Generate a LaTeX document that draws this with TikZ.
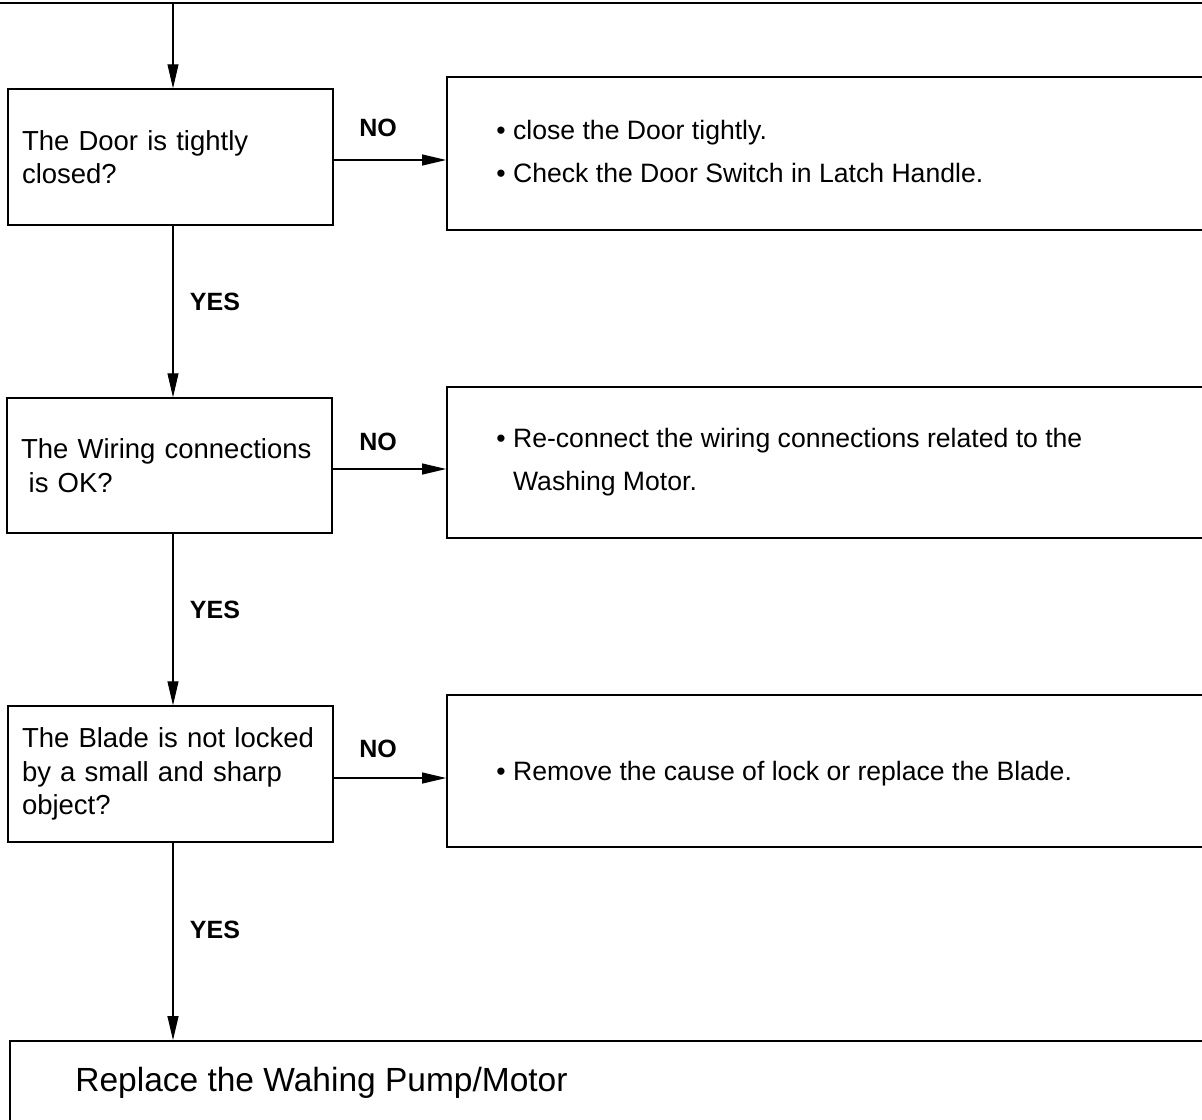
\documentclass[tikz,border=0pt]{standalone}
\usepackage{fontspec}
\setmainfont{Liberation Sans}
\usetikzlibrary{arrows.meta}
\begin{document}
\begin{tikzpicture}[x=0.5pt,y=-0.5pt,
  arr/.style={line width=0.55pt,-{Triangle[length=12pt,width=5.5pt]}},
  qbox/.style={draw,line width=0.75pt,align=left,text width=148.5pt,inner xsep=7pt,
    minimum width=162.5pt,minimum height=68pt,
    font=\fontsize{13.75pt}{16.75pt}\selectfont},
  abox/.style={draw,line width=0.9pt,minimum width=382.5pt,inner sep=0pt},
  atext/.style={anchor=west,align=left,inner sep=0pt,
    font=\fontsize{13.3pt}{21.5pt}\selectfont},
  lab/.style={font=\fontsize{12.5pt}{14pt}\selectfont\bfseries,inner sep=0pt}]
\useasboundingbox (0,0) rectangle (1202,1119);
\clip (0,0) rectangle (1202,1119);
\fill[white] (0,0) rectangle (1202,1119);
% top rule
\coordinate (tl) at (0,3);
\coordinate (tr) at (1202,3);
\draw[line width=1.1pt] (tl) -- (tr);
\coordinate (t) at (173,3);
% question boxes
\node[qbox] (b1) at (170.5,157) {The Door is tightly\\closed?};
\node[qbox,minimum height=67.5pt] (b2) at (169.5,465.5) {The Wiring connections\\\hspace*{0.278em}is OK?};
\node[qbox] (b3) at (170.5,774) {The Blade is not locked\\by a small and sharp\\object?};
% action boxes
\node[abox,minimum height=76.5pt] (r1) at (829.5,153.5) {};
\node[abox,minimum height=75.5pt] (r2) at (829.5,462.5) {};
\node[abox,minimum height=76pt] (r3) at (829.5,771) {};
\node[atext] (r1t) at (496,151.5) {\textbullet\ close the Door tightly.\\\textbullet\ Check the Door Switch in Latch Handle.};
\node[atext] (r2t) at (496,462) {\textbullet\ Re-connect the wiring connections related to the\\\hphantom{\textbullet\ }Washing Motor.};
\node[atext] (r3t) at (496,774) {\textbullet\ Remove the cause of lock or replace the Blade.};
% final box
\node[draw,line width=0.9pt,minimum width=601pt,minimum height=44.5pt,inner sep=0pt] (fb) at (611,1085.5) {};
\node[anchor=west,inner sep=0pt,font=\fontsize{16.75pt}{20pt}\selectfont] (fbt) at (75,1083) {Replace the Wahing Pump/Motor};
% vertical arrows
\draw[arr] (t) -- (t |- b1.north);
\draw[arr] (t |- b1.south) -- (t |- b2.north);
\draw[arr] (t |- b2.south) -- (t |- b3.north);
\draw[arr] (t |- b3.south) -- (t |- fb.north);
% NO arrows
\draw[arr] (b1.east |- 0,160) -- (r1.west |- 0,160);
\draw[arr] (b2.east |- 0,469) -- (r2.west |- 0,469);
\draw[arr] (b3.east |- 0,778) -- (r3.west |- 0,778);
% labels
\node[lab] (no1) at (378,128) {NO};
\node[lab] (no2) at (378,442) {NO};
\node[lab] (no3) at (378,749) {NO};
\node[lab] (yes1) at (215,302) {YES};
\node[lab] (yes2) at (215,610) {YES};
\node[lab] (yes3) at (215,930) {YES};
\end{tikzpicture}
\end{document}
